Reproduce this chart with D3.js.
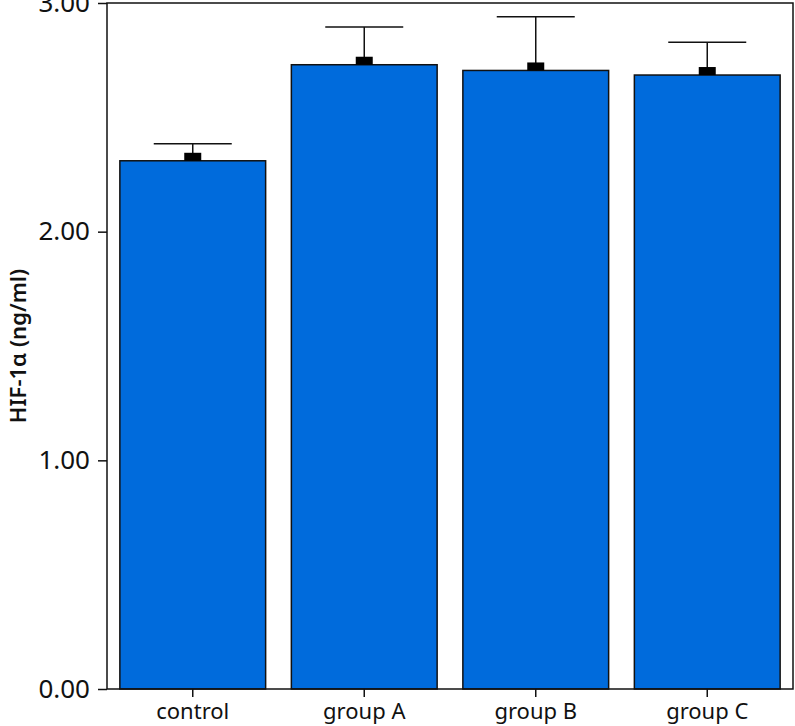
<!DOCTYPE html>
<html>
<head>
<meta charset="utf-8">
<script src="https://cdn.jsdelivr.net/npm/d3@7"></script>
<style>
  body { margin: 0; background: #fff; }
  svg text { font-family: "Noto Sans", sans-serif; fill: #111; }
</style>
</head>
<body>
<svg class="hif_chart" width="795" height="726"></svg>
<script>
// Data
var groups = ["control", "group A", "group B", "group C"];
var means = [2.31, 2.73, 2.705, 2.685];
var upper = [2.385, 2.895, 2.94, 2.828];
var yTicks = [0, 1, 2, 3];

// Dimensions
var margin = {top: 3, right: 2, bottom: 37, left: 107},
    width = 795 - margin.left - margin.right,
    height = 726 - margin.top - margin.bottom;

var svg = d3.select("svg.hif_chart");
var g = svg.append("g")
    .attr("transform", "translate(" + margin.left + "," + margin.top + ")");

// Scales
var x = d3.scaleBand()
    .domain(groups)
    .range([0, width])
    .paddingInner(0.15)
    .paddingOuter(0.075);

var y = d3.scaleLinear()
    .domain([0, 3])
    .range([height, 0]);

// Bars
g.selectAll("rect.bar")
    .data(groups)
    .enter()
    .append("rect")
    .attr("class", "bar")
    .attr("x", function(d) { return x(d); })
    .attr("y", function(d, i) { return y(means[i]); })
    .attr("width", x.bandwidth())
    .attr("height", function(d, i) { return height - y(means[i]); })
    .attr("fill", "#006bdc")
    .attr("stroke", "#111")
    .attr("stroke-width", 1.5);

// Error bars
var err = g.selectAll("g.err")
    .data(groups)
    .enter()
    .append("g")
    .attr("class", "err")
    .attr("transform", function(d) { return "translate(" + (x(d) + x.bandwidth() / 2) + ",0)"; });

err.append("line")
    .attr("y1", function(d, i) { return y(means[i]); })
    .attr("y2", function(d, i) { return y(upper[i]); })
    .attr("stroke", "#111")
    .attr("stroke-width", 1.5);

err.append("line")
    .attr("x1", -39)
    .attr("x2", 39)
    .attr("y1", function(d, i) { return y(upper[i]); })
    .attr("y2", function(d, i) { return y(upper[i]); })
    .attr("stroke", "#111")
    .attr("stroke-width", 1.5);

// mean marker sitting on the bar top
err.append("rect")
    .attr("x", -8.5)
    .attr("y", function(d, i) { return y(means[i]) - 8; })
    .attr("width", 17)
    .attr("height", 8)
    .attr("fill", "#000");

// Frame
g.append("rect")
    .attr("width", width)
    .attr("height", height)
    .attr("fill", "none")
    .attr("stroke", "#111")
    .attr("stroke-width", 1.5);

// Axes
var yAxis = g.append("g")
    .call(d3.axisLeft(y).tickValues(yTicks).tickFormat(d3.format(".2f")).tickSize(9).tickPadding(8));
yAxis.select(".domain").remove();
yAxis.selectAll("line").attr("stroke", "#111").attr("stroke-width", 1.5);
yAxis.selectAll("text").style("font-size", "26px").attr("fill", "#111");

var xAxis = g.append("g")
    .attr("transform", "translate(0," + height + ")")
    .call(d3.axisBottom(x).tickSize(8).tickPadding(6));
xAxis.select(".domain").remove();
xAxis.selectAll("line").attr("stroke", "#111").attr("stroke-width", 1.5);
xAxis.selectAll("text").style("font-size", "22px").attr("fill", "#111");

// Y label
svg.append("text")
    .attr("transform", "translate(18," + (margin.top + height / 2) + ") rotate(-90)")
    .attr("text-anchor", "middle")
    .attr("dy", "0.35em")
    .style("font-size", "22px")
    .style("font-weight", "600")
    .text("HIF-1α (ng/ml)");
</script>
</body>
</html>
